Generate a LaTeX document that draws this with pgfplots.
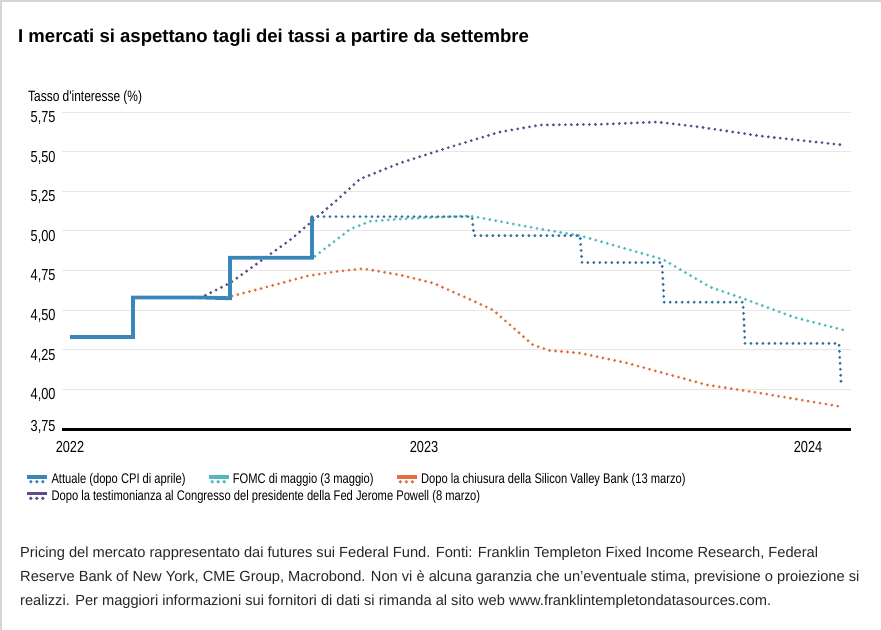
\documentclass[border=0pt]{standalone}
\usepackage{fontspec}
\setmainfont{Liberation Sans}
\newfontfamily\narrow[FakeStretch=0.8]{Liberation Sans}
\usepackage{pgfplots}
\pgfplotsset{compat=1.18}

\definecolor{cAtt}{HTML}{3A86B8}
\definecolor{cFomc}{HTML}{52B9BD}
\definecolor{cSvb}{HTML}{E2703F}
\definecolor{cPow}{HTML}{5E4A8C}
\definecolor{gridc}{HTML}{E6E6E6}
\definecolor{framec}{HTML}{D4D4D4}

\pgfplotsset{
  dotline/.style={line width=3.1bp, line cap=round, dash pattern=on 0bp off 6bp},
  ftimg/.style={legend image code/.code={
    \fill (0bp,1.6bp) rectangle (19bp,4.4bp);
    \fill (3.5bp,-2.2bp) circle[radius=1.5bp] (9.5bp,-2.2bp) circle[radius=1.5bp] (15.5bp,-2.2bp) circle[radius=1.5bp];
  }},
}

\begin{document}
\begin{tikzpicture}
\path[use as bounding box] (0,0) rectangle (881bp,-630bp);
\draw[framec, line width=1.5bp] (0.75bp,-630bp) -- (0.75bp,-0.75bp) -- (881bp,-0.75bp);

\node[anchor=base west, inner sep=0, font=\bfseries\fontsize{18.6}{20}\selectfont] at (18bp,-42bp)
  {I mercati si aspettano tagli dei tassi a partire da settembre};
\node[anchor=base west, inner sep=0, font=\narrow\fontsize{15}{16}\selectfont] at (28bp,-101bp)
  {Tasso d'interesse (\%)};

\begin{axis}[
  at={(62bp,-429bp)}, anchor=south west,
  scale only axis, width=789bp, height=317bp,
  xmin=62, xmax=851, ymin=3.75, ymax=5.75,
  clip=false,
  axis line style={draw=none},
  major tick length=0pt,
  xtick={70,424,808}, xticklabels={2022,2023,2024},
  ytick={4,4.25,4.5,4.75,5,5.25,5.5,5.75},
  extra y ticks={3.75},
  extra y tick style={yticklabel style={yshift=8bp}},
  /pgf/number format/fixed,
  /pgf/number format/fixed zerofill,
  /pgf/number format/precision=2,
  /pgf/number format/use comma,
  /pgf/number format/assume math mode=true,
  ticklabel style={font=\narrow\fontsize{16}{17}\selectfont, text=black},
  yticklabel style={anchor=east, xshift=-3bp, yshift=-6bp},
  xticklabel style={anchor=north, yshift=-9bp},
  ymajorgrids, grid style={gridc, line width=0.8bp},
  legend columns=3,
  legend cell align=left,
  legend style={at={(-0.0482,-0.128)}, anchor=north west, draw=none, fill=none,
    font=\narrow\fontsize{14}{15}\selectfont, row sep=1bp,
    /tikz/every odd column/.append style={column sep=3bp},
    /tikz/every even column/.append style={column sep=21bp}},
]
\draw[black, line width=3bp] (axis cs:62,3.75) -- (axis cs:851,3.75);

% Powell testimony (8 March)
\addplot[cPow, dotline, forget plot] coordinates {
  (200,4.576)(230,4.671)(290,4.942)(337,5.195)(360,5.327)(400,5.428)(450,5.529)
  (500,5.624)(540,5.668)(600,5.672)(657,5.687)(700,5.655)(760,5.599)(843,5.542)
};
% SVB closure (13 March)
\addplot[cSvb, dotline, forget plot] coordinates {
  (232,4.589)(267,4.646)(307,4.715)(333,4.741)(363,4.762)(400,4.722)(433,4.671)
  (467,4.576)(493,4.501)(513,4.390)(533,4.280)(550,4.245)(580,4.229)(627,4.166)
  (707,4.028)(760,3.977)(843,3.889)
};
% FOMC May
\addplot[cFomc, dotline, forget plot] coordinates {
  (315,4.84)(350,5.01)(370,5.06)(400,5.075)(470,5.095)(533,5.02)(580,4.97)
  (663,4.82)(710,4.646)(742,4.576)(793,4.457)(843,4.375)
};
% Attuale: history (solid) and pricing (dotted)
\addplot[cAtt!85!black, dotline, forget plot] coordinates {
  (312,5.09)(472,5.09)(474,4.97)(580,4.97)(582,4.80)(662,4.80)(664,4.55)
  (743,4.55)(745,4.29)(839,4.29)(841,4.05)
};
\addplot[cAtt, line width=3.8bp, forget plot] coordinates {
  (70,4.33)(133,4.33)(133,4.58)(200,4.58)(230,4.575)(230,4.83)(312,4.83)(312,5.09)
};

\addlegendimage{cAtt, ftimg}
\addlegendentry{Attuale (dopo CPI di aprile)}
\addlegendimage{cFomc, ftimg}
\addlegendentry{FOMC di maggio (3 maggio)}
\addlegendimage{cSvb, ftimg}
\addlegendentry{Dopo la chiusura della Silicon Valley Bank (13 marzo)}
\addlegendimage{cPow, ftimg}
\addlegendentry{\makebox[0pt][l]{Dopo la testimonianza al Congresso del presidente della Fed Jerome Powell (8 marzo)}}
\end{axis}

\node[anchor=north west, inner sep=0, align=left, font=\fontsize{14.7}{24}\selectfont, text=black!85] at (20bp,-547bp)
  {Pricing del mercato rappresentato dai futures sui Federal Fund. Fonti: Franklin Templeton Fixed Income Research, Federal\\
   Reserve Bank of New York, CME Group, Macrobond. Non vi è alcuna garanzia che un'eventuale stima, previsione o proiezione si\\
   realizzi. Per maggiori informazioni sui fornitori di dati si rimanda al sito web www.franklintempletondatasources.com.};
\end{tikzpicture}
\end{document}
